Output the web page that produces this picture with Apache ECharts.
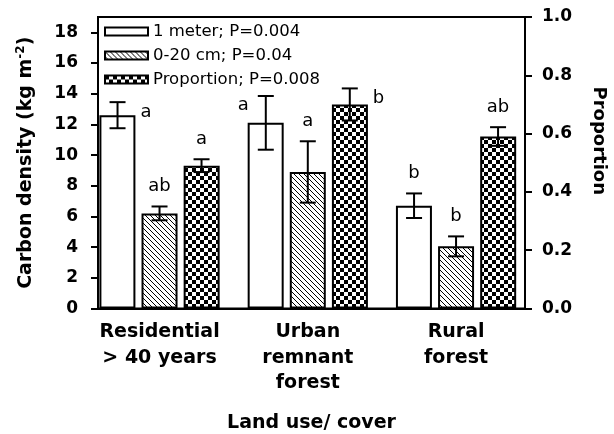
<!DOCTYPE html>
<html lang="en">
<head>
    <meta charset="UTF-8" />
    <title>Carbon density by land use</title>
    <script src="https://cdn.jsdelivr.net/npm/echarts@6/dist/echarts.min.js"></script>
</head>
<body style="margin: 0">
    <div id="chart" style="width: 614px; height: 434px"></div>
    <script>
        // land use categories, drawn at x = 1, 2, 3
        var landUse = ["Residential\n> 40 years", "Urban\nremnant\nforest", "Rural\nforest"];

        // 1 meter depth, kg m-2
        var meterMean = [12.6, 12.1, 6.7];
        var meterErr = [0.85, 1.75, 0.8];
        var meterLetters = ["a", "a", "b"];

        // 0-20 cm, kg m-2
        var topMean = [6.2, 8.9, 4.05];
        var topErr = [0.45, 2.0, 0.65];
        var topLetters = ["ab", "a", "b"];

        // proportion in 0-20 cm (right axis)
        var propMean = [0.49, 0.70, 0.59];
        var propErr = [0.022, 0.055, 0.032];
        var propLetters = ["a", "b", "ab"];

        var densityTicks = [0, 2, 4, 6, 8, 10, 12, 14, 16, 18];
        var propTicks = [0, 0.2, 0.4, 0.6, 0.8, 1.0];

        // where each letter sits relative to its bar
        var meterPlace = ["right", "left", "above"];
        var topPlace = ["above", "above", "above"];
        var propPlace = ["above", "right", "above"];

        var FONT = "DejaVu Sans";
        var BAR_W = 36;
        var STEP = 42; // bar width + gap

        function hatchTile() {
            var c = document.createElement("canvas");
            c.width = 5;
            c.height = 5;
            var ctx = c.getContext("2d");
            ctx.fillStyle = "#fff";
            ctx.fillRect(0, 0, 5, 5);
            ctx.fillStyle = "#000";
            for (var i = 0; i < 5; i++) ctx.fillRect(i, i, 1, 1);
            return c;
        }

        function checkerTile() {
            var c = document.createElement("canvas");
            c.width = 8;
            c.height = 8;
            var ctx = c.getContext("2d");
            ctx.fillStyle = "#fff";
            ctx.fillRect(0, 0, 8, 8);
            ctx.fillStyle = "#000";
            ctx.fillRect(0, 0, 4, 4);
            ctx.fillRect(4, 4, 4, 4);
            return c;
        }

        var hatchFill = { image: hatchTile(), repeat: "repeat" };
        var checkerFill = { image: checkerTile(), repeat: "repeat" };

        function barData(vals) {
            return vals.map(function (v, i) {
                return [i + 1, v];
            });
        }

        function errorSeries(mean, err, letters, place, yIndex, shift) {
            return {
                type: "custom",
                yAxisIndex: yIndex,
                z: 5,
                silent: true,
                encode: { x: 0, y: [1, 2] },
                data: mean.map(function (m, i) {
                    return [i + 1, m - err[i], m + err[i], i];
                }),
                renderItem: function (params, api) {
                    var i = api.value(3);
                    var lo = api.coord([api.value(0), api.value(1)]);
                    var hi = api.coord([api.value(0), api.value(2)]);
                    var x = lo[0] + shift;
                    var ln = { stroke: "#000", lineWidth: 2 };
                    var tx, ty, align, vAlign;
                    if (place[i] === "right") {
                        tx = x + 23; ty = hi[1] + 10; align = "left"; vAlign = "middle";
                    } else if (place[i] === "left") {
                        tx = x - 17; ty = hi[1] + 9; align = "right"; vAlign = "middle";
                    } else {
                        tx = x; ty = hi[1] - 11; align = "center"; vAlign = "bottom";
                    }
                    return {
                        type: "group",
                        children: [
                            { type: "line", shape: { x1: x, y1: lo[1], x2: x, y2: hi[1] }, style: ln },
                            { type: "line", shape: { x1: x - 8, y1: hi[1], x2: x + 8, y2: hi[1] }, style: ln },
                            { type: "line", shape: { x1: x - 8, y1: lo[1], x2: x + 8, y2: lo[1] }, style: ln },
                            {
                                type: "text",
                                style: {
                                    text: letters[i], x: tx, y: ty,
                                    fontSize: 18, fontFamily: FONT, fill: "#000",
                                    align: align, verticalAlign: vAlign
                                }
                            }
                        ]
                    };
                }
            };
        }

        var chart = echarts.init(document.getElementById("chart"));

        var axisFont = { fontSize: 17, fontWeight: "bold", fontFamily: FONT, color: "#000" };

        var option = {
            animation: false,
            grid: {
                left: 98, right: 89, top: 17, bottom: 125.5,
                outerBoundsMode: "none",
                show: true, borderColor: "#000", borderWidth: 2
            },
            legend: {
                orient: "vertical",
                left: 104, top: 23,
                padding: 0,
                itemWidth: 43, itemHeight: 8, itemGap: 7,
                icon: "rect",
                data: ["1 meter; P=0.004", "0-20 cm; P=0.04", "Proportion; P=0.008"],
                itemStyle: { borderColor: "#000", borderWidth: 2 },
                textStyle: { fontSize: 16.5, fontFamily: FONT, color: "#000" }
            },
            xAxis: {
                type: "value",
                min: 0.585, max: 3.465,
                splitLine: { show: false },
                axisLine: { show: true, lineStyle: { color: "#000", width: 2 } },
                axisTick: { show: false },
                axisLabel: {
                    customValues: [1, 2, 3],
                    formatter: function (v) { return landUse[Math.round(v) - 1]; },
                    fontSize: 19, fontWeight: "bold", fontFamily: FONT, color: "#000",
                    lineHeight: 25.5, margin: 11
                },
                name: "Land use/ cover",
                nameLocation: "middle",
                nameGap: 105,
                nameTextStyle: { fontSize: 19, fontWeight: "bold", fontFamily: FONT, color: "#000" }
            },
            yAxis: [
                {
                    type: "value",
                    min: 0, max: 19,
                    splitLine: { show: false },
                    axisLine: { show: true, lineStyle: { color: "#000", width: 2 } },
                    axisTick: { show: true, length: 7, customValues: densityTicks, lineStyle: { width: 2 } },
                    axisLabel: Object.assign({ customValues: densityTicks, margin: 20 }, axisFont),
                    name: "Carbon density (kg m{sup|-2})",
                    nameLocation: "middle",
                    nameGap: 61,
                    nameTextStyle: {
                        fontSize: 19, fontWeight: "bold", fontFamily: FONT, color: "#000",
                        rich: {
                            sup: { fontSize: 12, fontWeight: "bold", fontFamily: FONT, color: "#000", padding: [0, 0, 10, 0] }
                        }
                    }
                },
                {
                    type: "value",
                    min: 0, max: 1,
                    position: "right",
                    splitLine: { show: false },
                    axisLine: { show: true, lineStyle: { color: "#000", width: 2 } },
                    axisTick: { show: true, length: 7, customValues: propTicks, lineStyle: { width: 2 } },
                    axisLabel: Object.assign({
                        customValues: propTicks, margin: 17,
                        formatter: function (v) { return v.toFixed(1); }
                    }, axisFont),
                    name: "Proportion",
                    nameLocation: "middle",
                    nameGap: 65,
                    nameRotate: -90,
                    nameTextStyle: {
                        fontSize: 18, fontWeight: "bold", fontFamily: FONT, color: "#000",
                        padding: [0, 44, 0, 0]
                    }
                }
            ],
            series: [
                {
                    name: "1 meter; P=0.004",
                    type: "bar",
                    barWidth: BAR_W,
                    barGap: "17%",
                    data: barData(meterMean),
                    itemStyle: { color: "#fff", borderColor: "#000", borderWidth: 2 }
                },
                {
                    name: "0-20 cm; P=0.04",
                    type: "bar",
                    barWidth: BAR_W,
                    barGap: "17%",
                    data: barData(topMean),
                    itemStyle: { color: hatchFill, borderColor: "#000", borderWidth: 2 }
                },
                {
                    name: "Proportion; P=0.008",
                    type: "bar",
                    yAxisIndex: 1,
                    barWidth: BAR_W,
                    barGap: "17%",
                    data: barData(propMean),
                    itemStyle: { color: checkerFill, borderColor: "#000", borderWidth: 2 }
                },
                errorSeries(meterMean, meterErr, meterLetters, meterPlace, 0, -STEP),
                errorSeries(topMean, topErr, topLetters, topPlace, 0, 0),
                errorSeries(propMean, propErr, propLetters, propPlace, 1, STEP)
            ]
        };

        chart.setOption(option);
    </script>
</body>
</html>
